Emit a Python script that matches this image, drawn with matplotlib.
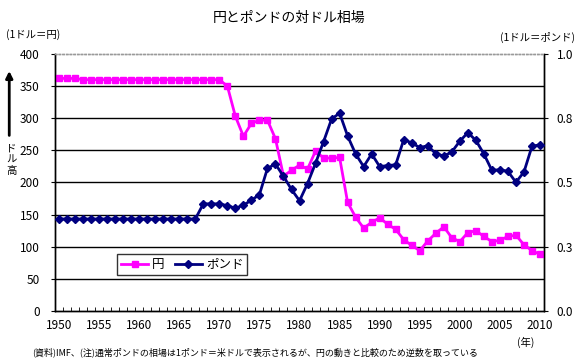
import matplotlib
matplotlib.use("Agg")
import matplotlib.pyplot as plt
import numpy as np

plt.rcParams['font.family'] = ['Noto Sans CJK JP', 'DejaVu Sans']

years = np.arange(1950, 2011)

# 円 / 1ドル
yen = [362, 362, 362] + [360] * 18 + [
    350, 303, 272, 292, 297, 297, 268, 210, 219, 227,
    221, 249, 238, 238, 239, 169, 146, 129, 138, 145,
    135, 127, 111, 102, 94, 109, 121, 131, 114, 108,
    122, 125, 116, 108, 110, 116, 118, 103, 94, 88]

# ポンド / 1ドル (逆数)
pound = [0.358] * 18 + [
    0.417, 0.417, 0.417, 0.410, 0.400, 0.412, 0.431, 0.453, 0.555, 0.572,
    0.524, 0.473, 0.429, 0.496, 0.575, 0.659, 0.747, 0.770, 0.681, 0.611,
    0.562, 0.611, 0.562, 0.566, 0.569, 0.667, 0.654, 0.636, 0.643, 0.612,
    0.603, 0.619, 0.661, 0.694, 0.664, 0.611, 0.547, 0.550, 0.543, 0.501,
    0.541, 0.641, 0.647]

left_ticks = [0, 50, 100, 150, 200, 250, 300, 350, 400]
right_ticks = [0.0, 0.25, 0.5, 0.75, 1.0]
right_labels = ["0.0", "0.3", "0.5", "0.8", "1.0"]
year_labels = list(range(1950, 2011, 5))

fig = plt.figure(figsize=(5.78, 3.59), dpi=100)
ax = fig.add_axes([0.0952, 0.1337, 0.8460, 0.7159])
ax2 = ax.twinx()

for y in left_ticks[1:-1]:
    ax.axhline(y, color='black', linewidth=1, zorder=1)

ax.plot(years, yen, color='#FF00FF', linewidth=2, marker='s', markersize=5,
        label='円', zorder=3)
ax2.plot(years, pound, color='#000080', linewidth=2, marker='D', markersize=4.5,
         label='ポンド', zorder=3)

ax.set_xlim(1949.5, 2010.5)
ax.set_ylim(0, 400)
ax2.set_ylim(0, 1.0)

ax.set_yticks(left_ticks)
ax.tick_params(axis='y', direction='out', length=3, labelsize=8.5, pad=8)
ax2.set_yticks(right_ticks)
ax2.set_yticklabels(right_labels)
ax2.tick_params(axis='y', direction='out', length=3, labelsize=8.5, pad=6)

ax.set_xticks(np.arange(1949.5, 2011, 1), minor=True)
ax.set_xticks(year_labels)
ax.set_xticklabels([str(y) for y in year_labels])
ax.tick_params(axis='x', which='major', length=0, labelsize=8.5, pad=6)
ax.tick_params(axis='x', which='minor', direction='in', length=3)

for a in (ax, ax2):
    a.spines['top'].set_color('#999999')
    a.spines['top'].set_linestyle(':')
    a.spines['top'].set_linewidth(1)
    a.spines['left'].set_linewidth(1)
    a.spines['right'].set_linewidth(1)
    a.spines['bottom'].set_linewidth(1)

h1, l1 = ax.get_legend_handles_labels()
h2, l2 = ax2.get_legend_handles_labels()
leg = ax2.legend(h1 + h2, l1 + l2, loc='center', bbox_to_anchor=(0.26, 0.18),
                 ncol=2, frameon=True, fancybox=False, fontsize=9,
                 handlelength=2.2, columnspacing=0.8, handletextpad=0.3,
                 borderpad=0.3)
leg.get_frame().set_edgecolor('black')
leg.get_frame().set_linewidth(1)

fig.text(0.5, 0.95, '円とポンドの対ドル相場', ha='center', va='center', fontsize=10)
fig.text(0.01, 0.905, '(1ドル＝円)', ha='left', va='center', fontsize=7.5)
fig.text(0.995, 0.895, '(1ドル＝ポンド)', ha='right', va='center', fontsize=7.5)
fig.text(0.91, 0.047, '(年)', ha='center', va='center', fontsize=7.5)
fig.text(0.055, 0.018, '(資料)IMF、(注)通常ポンドの相場は1ポンド＝米ドルで表示されるが、円の動きと比較のため逆数を取っている',
         ha='left', va='center', fontsize=6.5)

# 縦書き「ドル高」
for i, ch in enumerate('ドル高'):
    fig.text(0.02, 0.585 - i * 0.03, ch, ha='center', va='center', fontsize=7.5)
fig.add_artist(matplotlib.patches.FancyArrowPatch(
    (0.016, 0.615), (0.016, 0.81), transform=fig.transFigure,
    arrowstyle='-|>', mutation_scale=10, linewidth=2, color='black'))

fig.savefig('out.png', dpi=100)
